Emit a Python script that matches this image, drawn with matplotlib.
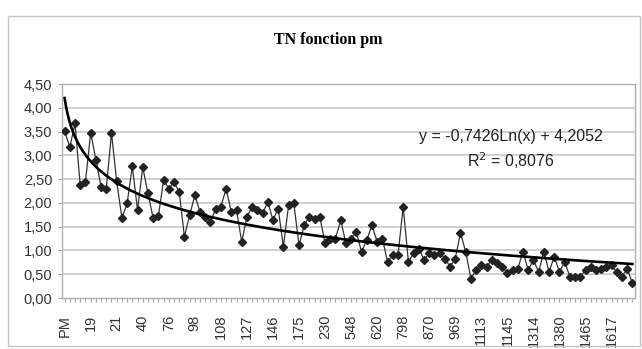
"""
TN fonction pm - line chart with logarithmic trend line (Excel style)
"""

import matplotlib
matplotlib.use('Agg')
import matplotlib.pyplot as plt
import numpy as np
from matplotlib.patches import Rectangle


# Values, one per category (110 categories)
TN_VALUES = [
    3.51, 3.17, 3.67, 2.37, 2.44, 3.47, 2.91, 2.34, 2.30, 3.47,
    2.45, 1.68, 1.99, 2.77, 1.85, 2.75, 2.20, 1.68, 1.72, 2.48,
    2.30, 2.44, 2.23, 1.29, 1.74, 2.16, 1.81, 1.71, 1.60, 1.88,
    1.92, 2.30, 1.81, 1.85, 1.18, 1.71, 1.92, 1.85, 1.78, 2.02,
    1.64, 1.88, 1.08, 1.95, 1.99, 1.11, 1.53, 1.71, 1.67, 1.71,
    1.15, 1.25, 1.25, 1.64, 1.15, 1.25, 1.39, 0.97, 1.22, 1.53,
    1.18, 1.25, 0.76, 0.90, 0.90, 1.92, 0.76, 0.94, 1.04, 0.80,
    0.94, 0.90, 0.94, 0.83, 0.66, 0.83, 1.37, 0.97, 0.41, 0.59,
    0.69, 0.66, 0.80, 0.73, 0.66, 0.52, 0.59, 0.62, 0.97, 0.59,
    0.80, 0.55, 0.97, 0.55, 0.87, 0.55, 0.76, 0.45, 0.45, 0.45,
    0.59, 0.66, 0.59, 0.62, 0.66, 0.69, 0.55, 0.45, 0.62, 0.31,
]

# Category labels shown on the axis (every 5th category)
TICK_LABELS = ['PM', '19', '21', '40', '76', '98', '108', '127', '146', '175',
               '230', '548', '620', '798', '870', '969', '1113', '1145', '1314',
               '1380', '1465', '1617']
LABEL_STEP = 5

# Logarithmic trend line as printed on the chart
TREND_A = -0.7426
TREND_B = 4.2052
R2 = 0.8076

Y_TICKS = [0.0, 0.5, 1.0, 1.5, 2.0, 2.5, 3.0, 3.5, 4.0, 4.5]


def fmt_fr(v, nd=2):
    return f"{v:.{nd}f}".replace('.', ',')


fig = plt.figure(figsize=(6.42, 3.49), dpi=100)
fig.patch.set_facecolor('white')

# Outer chart border
fig.patches.append(Rectangle((8 / 642, 3 / 349), 632 / 642, 330 / 349,
                             transform=fig.transFigure, fill=False,
                             edgecolor='#c4c4c4', linewidth=1.0))

ax = fig.add_axes([62 / 642, 1 - 298 / 349, 573 / 642, 214 / 349])

n = len(TN_VALUES)
x = np.arange(n)

# Gridlines
for yv in Y_TICKS[1:]:
    ax.axhline(yv, color='#c8c8c8', linewidth=1.2, zorder=1)

# Data series
ax.plot(x, TN_VALUES, color='#333333', linewidth=0.9, marker='D',
        markersize=3.8, markerfacecolor='#222222', markeredgecolor='#222222',
        zorder=3)

# Trend line
xt = np.linspace(1, n, 400)
ax.plot(xt - 1, TREND_A * np.log(xt) + TREND_B, color='black',
        linewidth=1.9, zorder=4)

ax.set_xlim(-0.5, n - 0.5)
ax.set_ylim(0, 4.5)

ax.set_yticks(Y_TICKS)
ax.set_yticklabels([fmt_fr(v) for v in Y_TICKS], fontsize=10.5,
                   family='Liberation Sans', color='#333333')

labels = [''] * n
for i, lab in enumerate(TICK_LABELS):
    labels[i * LABEL_STEP] = lab
ax.set_xticks(x)
ax.set_xticklabels(labels, rotation=90, fontsize=10.5,
                   family='Liberation Sans', color='#333333')

ax.tick_params(axis='x', length=3, color='#aaaaaa', pad=9)
ax.tick_params(axis='y', length=3, color='#aaaaaa', pad=4)

for side in ['left', 'bottom', 'right', 'top']:
    ax.spines[side].set_color('#b0b0b0')
    ax.spines[side].set_linewidth(1.0)

# Equation label
ax.text(0.784, 0.755, f"y = {fmt_fr(TREND_A, 4)}Ln(x) + {fmt_fr(TREND_B, 4)}",
        transform=ax.transAxes, ha='center', va='center', fontsize=11.5,
        family='Liberation Sans', color='#222222', zorder=5)
ax.text(0.784, 0.64, f"R$^2$ = {fmt_fr(R2, 4)}",
        transform=ax.transAxes, ha='center', va='center', fontsize=11.5,
        family='Liberation Sans', color='#222222', zorder=5)

# Title
fig.text(328 / 642, 1 - 40 / 349, 'TN fonction pm', ha='center', va='center',
         fontsize=11.5, fontweight='bold', family='Liberation Serif')

plt.savefig('out.png', dpi=100)
plt.close()
